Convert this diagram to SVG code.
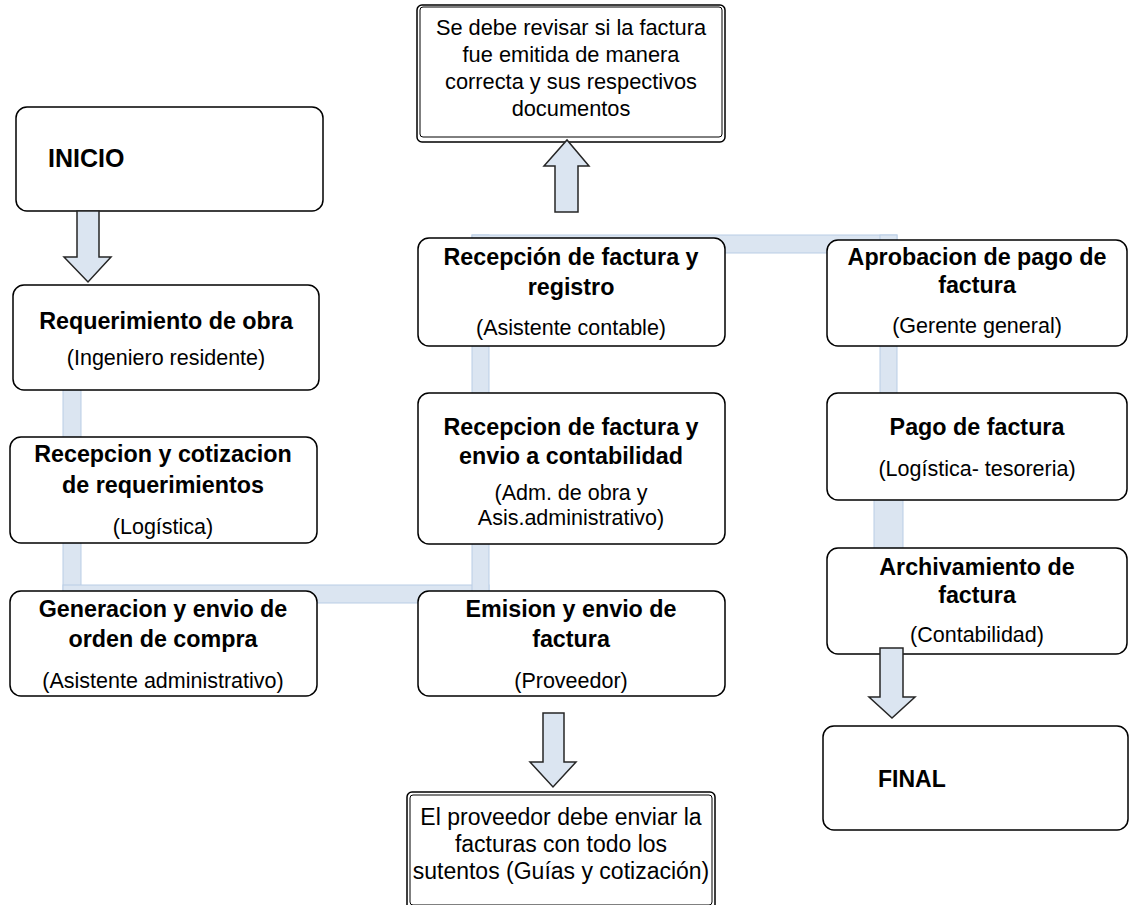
<svg xmlns="http://www.w3.org/2000/svg" width="1129" height="905" viewBox="0 0 1129 905">
<style>
.box{fill:#fff;stroke:#000;stroke-width:1.5}
.bar{fill:#dbe5f1;stroke:#b9cde5;stroke-width:1}
.arr{fill:#dbe5f1;stroke:#262626;stroke-width:1.5;stroke-linejoin:miter}
text{font-family:"Liberation Sans",Arial,sans-serif;fill:#000;text-anchor:middle}
.b{font-weight:bold;font-size:23.3px}
.r{font-size:21.5px}
.n{font-size:21.8px}
.m{font-size:23px}
</style>
<rect width="1129" height="905" fill="#fff"/>
<g id="connectors">
<rect class="bar" x="63" y="385" width="18" height="218"/>
<rect class="bar" x="63" y="585" width="426" height="18"/>
<rect class="bar" x="472" y="235" width="17" height="368"/>
<rect class="bar" x="472" y="235" width="425" height="18"/>
<rect class="bar" x="880" y="235" width="17" height="160"/>
<rect class="bar" x="874" y="495" width="29" height="58"/>
</g>
<g id="n-top">
<rect class="box" x="417" y="5" width="308" height="137" rx="5"/>
<rect fill="none" stroke="#000" stroke-width="1" x="420" y="7" width="302" height="130" rx="3"/>
<text class="n" x="571" y="35">Se debe revisar si la factura</text>
<text class="n" x="571" y="62">fue emitida de manera</text>
<text class="n" x="571" y="89">correcta y sus respectivos</text>
<text class="n" x="571" y="116">documentos</text>
</g>
<g id="n-inicio">
<rect class="box" x="16" y="107" width="307" height="104" rx="11"/>
<text class="b" x="48" y="167" style="font-size:25px;text-anchor:start">INICIO</text>
</g>
<g id="n-req">
<rect class="box" x="13" y="285" width="306" height="105" rx="11"/>
<text class="b" x="166" y="329">Requerimiento de obra</text>
<text class="r" x="166" y="365">(Ingeniero  residente)</text>
</g>
<g id="n-cot">
<rect class="box" x="10" y="437" width="307" height="106" rx="11"/>
<text class="b" x="163" y="462">Recepcion y cotizacion</text>
<text class="b" x="163" y="493">de requerimientos</text>
<text class="r" x="163" y="534">(Logística)</text>
</g>
<g id="n-gen">
<rect class="box" x="10" y="591" width="307" height="105" rx="11"/>
<text class="b" x="163" y="617">Generacion y envio de</text>
<text class="b" x="163" y="647">orden de compra</text>
<text class="r" x="163" y="688">(Asistente  administrativo)</text>
</g>
<g id="n-reg">
<rect class="box" x="418" y="238" width="307" height="108" rx="11"/>
<text class="b" x="571" y="265">Recepción de factura y</text>
<text class="b" x="571" y="295">registro</text>
<text class="r" x="571" y="335">(Asistente  contable)</text>
</g>
<g id="n-env">
<rect class="box" x="418" y="393" width="307" height="151" rx="11"/>
<text class="b" x="571" y="435">Recepcion de factura y</text>
<text class="b" x="571" y="464">envio a contabilidad</text>
<text class="r" x="571" y="500">(Adm. de obra y</text>
<text class="r" x="571" y="525">Asis.administrativo)</text>
</g>
<g id="n-emi">
<rect class="box" x="418" y="591" width="307" height="105" rx="11"/>
<text class="b" x="571" y="617">Emision y envio de</text>
<text class="b" x="571" y="647">factura</text>
<text class="r" x="571" y="688">(Proveedor)</text>
</g>
<g id="n-prov">
<rect class="box" x="407" y="792" width="308" height="120" rx="5"/>
<rect fill="none" stroke="#000" stroke-width="1" x="410" y="795" width="302" height="110" rx="3"/>
<text class="m" x="561" y="825">El proveedor  debe enviar la</text>
<text class="m" x="561" y="852">facturas con todo los</text>
<text class="m" x="561" y="879">sutentos (Guías y cotización)</text>
</g>
<g id="n-apr">
<rect class="box" x="827" y="240" width="300" height="106" rx="11"/>
<text class="b" x="977" y="265">Aprobacion de pago de</text>
<text class="b" x="977" y="293">factura</text>
<text class="r" x="977" y="333">(Gerente  general)</text>
</g>
<g id="n-pago">
<rect class="box" x="827" y="393" width="300" height="107" rx="11"/>
<text class="b" x="977" y="435">Pago de factura</text>
<text class="r" x="977" y="476">(Logística- tesoreria)</text>
</g>
<g id="n-arch">
<rect class="box" x="827" y="548" width="300" height="106" rx="11"/>
<text class="b" x="977" y="575">Archivamiento de</text>
<text class="b" x="977" y="603">factura</text>
<text class="r" x="977" y="642">(Contabilidad)</text>
</g>
<g id="n-final">
<rect class="box" x="823" y="726" width="305" height="104" rx="11"/>
<text class="b" x="878" y="787" style="font-size:23px;text-anchor:start">FINAL</text>
</g>
<g id="arrows">
<polygon class="arr" points="77,211 77,257 64,257 88,282 111,257 99,257 99,211"/>
<polygon class="arr" points="555,212 555,166 544,166 567,140 589,166 578,166 578,212"/>
<polygon class="arr" points="543,713 543,762 530,762 553,787 576,762 564,762 564,713"/>
<polygon class="arr" points="880,648 880,697 869,697 892,718 915,697 903,697 903,648"/>
</g>
</svg>
